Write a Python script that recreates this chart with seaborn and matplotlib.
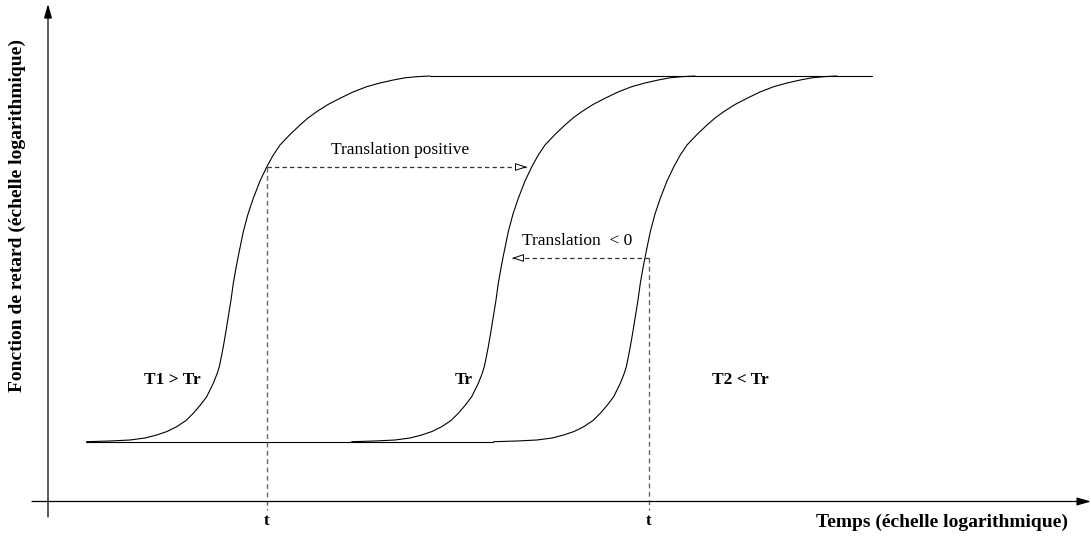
import matplotlib
matplotlib.use("Agg")
import matplotlib.pyplot as plt
import seaborn as sns
import pandas as pd
import numpy as np

# drawing units: pixels of the original figure (x to the right, y downwards)
# shape of the reference curve (T1 > Tr)
shape_x = [86.7, 110, 130, 145, 156.7, 167, 176.7, 186, 193.3, 200, 206.7, 213.3,
           217, 219.3, 221.5, 223.3, 226, 228.3, 231, 233.3, 236, 238.5, 243.3,
           248, 253.3, 260, 266.7, 273, 280, 290, 300, 308, 316.7, 328, 340, 353,
           366.7, 380, 393.3, 405, 416.7, 430]
shape_y = [441.7, 441, 440, 438, 435, 431.5, 426.7, 420.5, 413.3, 405.5, 396.7,
           383.3, 374, 366.7, 356, 346.7, 331, 316.7, 300, 283.3, 268, 255, 231.7,
           214, 198.3, 181, 167, 155.5, 145, 134.5, 125, 118, 111.7, 104.5, 98.3,
           92, 86.7, 83, 80, 77.8, 76.7, 76]

curve_names = ["T1 > Tr", "Tr", "T2 < Tr"]
curve_shifts = [0, 265, 407]
label_pos = [(172, 380), (464, 380), (740, 380)]

low_level, high_level = 441.7, 76
low_span = (86, 493)
high_span = (430, 872)

t_marks = [267, 649]
t_levels = [167, 258]

arrow_pos = {"Translation positive": ((267, 167), (527, 167), (400, 150)),
             "Translation  < 0": ((649, 258), (512, 258), (577, 241))}

x_label = "Temps (échelle logarithmique)"
y_label = "Fonction de retard (échelle logarithmique)"

sns.set_theme(style="white")
plt.rcParams["font.family"] = ["Liberation Serif", "DejaVu Serif"]
plt.rcParams["text.color"] = "black"

fig = plt.figure(figsize=(10.91, 5.39), dpi=100)
ax = fig.add_axes([0, 0, 1, 1])
ax.set_xlim(0, 1091)
ax.set_ylim(539, 0)
ax.axis("off")

rows = []
for name, shift in zip(curve_names, curve_shifts):
    for x, y in zip(shape_x, shape_y):
        rows.append({"x": x + shift, "y": y, "curve": name})
df = pd.DataFrame(rows)
sns.lineplot(data=df, x="x", y="y", hue="curve", palette=["black"] * 3,
             estimator=None, sort=False, linewidth=0.8, legend=False, ax=ax)

# plateaus
ax.plot(low_span, [low_level, low_level], color="black", lw=0.8)
ax.plot(high_span, [high_level, high_level], color="black", lw=0.8)

# axes with arrows
ax.annotate("", xy=(48, 4), xytext=(48, 517),
            arrowprops=dict(arrowstyle="-|>,head_length=0.7,head_width=0.2",
                            color="black", lw=0.9, shrinkA=0, shrinkB=0))
ax.annotate("", xy=(1091, 501.5), xytext=(32, 501.5),
            arrowprops=dict(arrowstyle="-|>,head_length=0.7,head_width=0.2",
                            color="black", lw=0.9, shrinkA=0, shrinkB=0))

# vertical dashed lines at t
for xm, lev in zip(t_marks, t_levels):
    ax.plot([xm, xm], [lev, 510], color="#666666", lw=1.0, dashes=(3.5, 2.5))
    ax.text(xm, 521, "t", ha="center", va="center", fontsize=12, fontweight="bold",
            color="black")

# translation arrows
for text, (start, end, tpos) in arrow_pos.items():
    ax.plot([start[0], end[0]], [start[1], end[1]], color="#333333", lw=0.9,
            dashes=(3.5, 2.5))
    ax.annotate("", xy=end, xytext=(end[0] - 8 * np.sign(end[0] - start[0]), end[1]),
                arrowprops=dict(arrowstyle="-|>,head_length=0.6,head_width=0.2",
                                fc="white", ec="black", lw=0.7, shrinkA=0, shrinkB=0))
    ax.text(tpos[0], tpos[1], text, ha="center", va="center", fontsize=12.5,
            color="black")

for name, (lx, ly) in zip(curve_names, label_pos):
    ax.text(lx, ly, name, ha="center", va="center", fontsize=12.5, fontweight="bold",
            color="black")

ax.text(1068, 522, x_label, ha="right", va="center", fontsize=14, fontweight="bold",
        color="black")
ax.text(17, 216, y_label, ha="center", va="center", rotation=90,
        fontsize=14, fontweight="bold", color="black")

fig.savefig("out.png", dpi=100)
